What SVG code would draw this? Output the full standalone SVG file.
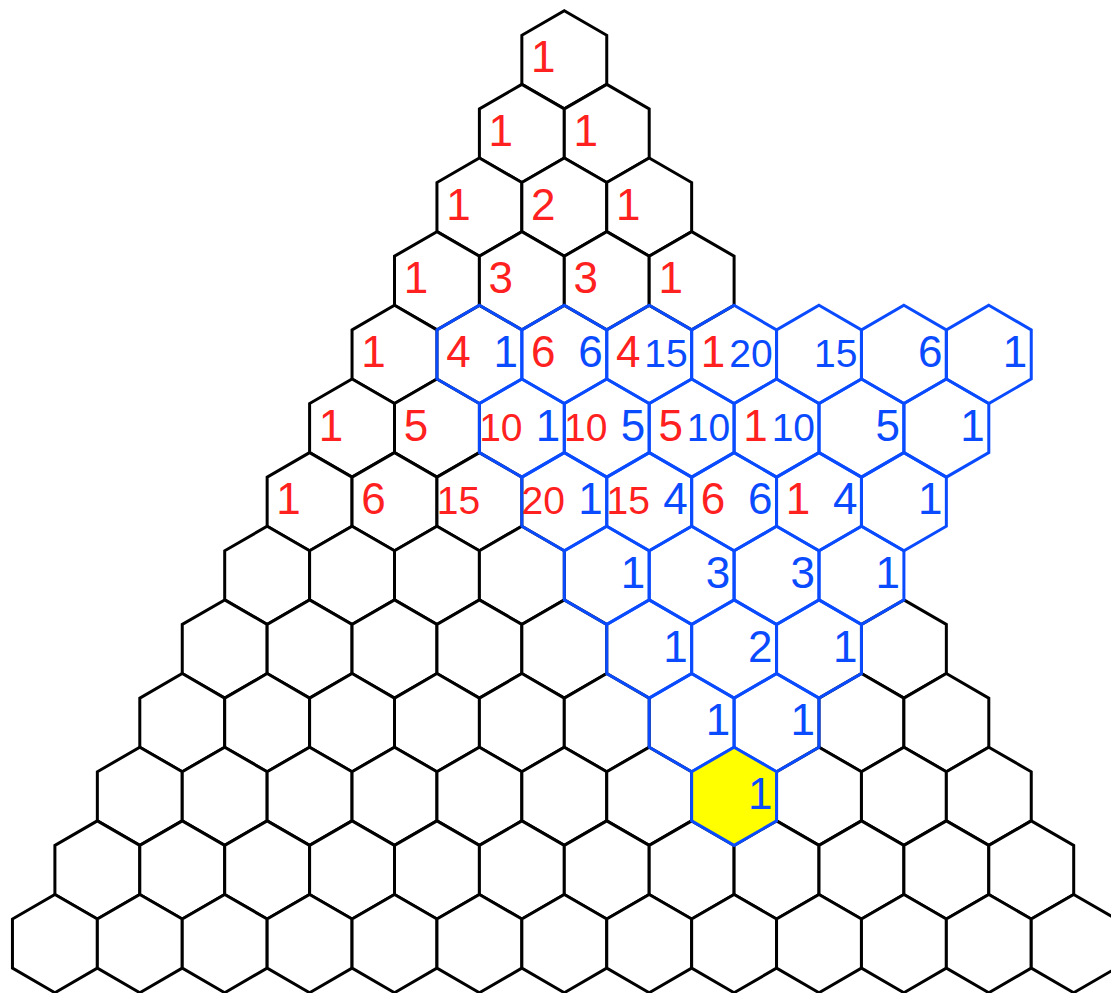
<svg xmlns="http://www.w3.org/2000/svg" xmlns:xlink="http://www.w3.org/1999/xlink" width="1111" height="993" viewBox="0 0 1111 993">
<style>
.k{fill:#fff;stroke:#000;stroke-width:3}
.b{fill:none;stroke:#0a4bff;stroke-width:3}
.y{fill:#ffff00;stroke:#0a4bff;stroke-width:3}
text{font-family:"Liberation Sans",Arial,sans-serif;font-size:44px}
.r{fill:#ff2020;text-anchor:middle}
.u{fill:#0a4bff;text-anchor:end}
.s{font-size:39px}
</style>
<defs>
<polygon id="hx" points="0,-49.1 42.45,-24.55 42.45,24.55 0,49.1 -42.45,24.55 -42.45,-24.55"/>
</defs>
<rect width="1111" height="993" fill="#fff"/>
<g id="nodes">
<g id="n0-0" transform="translate(564.3,59.8)"><use href="#hx" class="k"/><text class="r" x="-21" y="12.5">1</text></g>
<g id="n1-0" transform="translate(521.85,133.45)"><use href="#hx" class="k"/><text class="r" x="-21" y="12.5">1</text></g>
<g id="n1-1" transform="translate(606.75,133.45)"><use href="#hx" class="k"/><text class="r" x="-21" y="12.5">1</text></g>
<g id="n2-0" transform="translate(479.4,207.1)"><use href="#hx" class="k"/><text class="r" x="-21" y="12.5">1</text></g>
<g id="n2-1" transform="translate(564.3,207.1)"><use href="#hx" class="k"/><text class="r" x="-21" y="12.5">2</text></g>
<g id="n2-2" transform="translate(649.2,207.1)"><use href="#hx" class="k"/><text class="r" x="-21" y="12.5">1</text></g>
<g id="n3-0" transform="translate(436.95,280.75)"><use href="#hx" class="k"/><text class="r" x="-21" y="12.5">1</text></g>
<g id="n3-1" transform="translate(521.85,280.75)"><use href="#hx" class="k"/><text class="r" x="-21" y="12.5">3</text></g>
<g id="n3-2" transform="translate(606.75,280.75)"><use href="#hx" class="k"/><text class="r" x="-21" y="12.5">3</text></g>
<g id="n3-3" transform="translate(691.65,280.75)"><use href="#hx" class="k"/><text class="r" x="-21" y="12.5">1</text></g>
<g id="n4-0" transform="translate(394.5,354.4)"><use href="#hx" class="k"/><text class="r" x="-21" y="12.5">1</text></g>
<g id="n5-0" transform="translate(352.05,428.05)"><use href="#hx" class="k"/><text class="r" x="-21" y="12.5">1</text></g>
<g id="n5-1" transform="translate(436.95,428.05)"><use href="#hx" class="k"/><text class="r" x="-21" y="12.5">5</text></g>
<g id="n6-0" transform="translate(309.6,501.7)"><use href="#hx" class="k"/><text class="r" x="-21" y="12.5">1</text></g>
<g id="n6-1" transform="translate(394.5,501.7)"><use href="#hx" class="k"/><text class="r" x="-21" y="12.5">6</text></g>
<g id="n6-2" transform="translate(479.4,501.7)"><use href="#hx" class="k"/><text class="r s" x="-21" y="12.5">15</text></g>
<g id="n7-0" transform="translate(267.15,575.35)"><use href="#hx" class="k"/></g>
<g id="n7-1" transform="translate(352.05,575.35)"><use href="#hx" class="k"/></g>
<g id="n7-2" transform="translate(436.95,575.35)"><use href="#hx" class="k"/></g>
<g id="n7-3" transform="translate(521.85,575.35)"><use href="#hx" class="k"/></g>
<g id="n8-0" transform="translate(224.7,649)"><use href="#hx" class="k"/></g>
<g id="n8-1" transform="translate(309.6,649)"><use href="#hx" class="k"/></g>
<g id="n8-2" transform="translate(394.5,649)"><use href="#hx" class="k"/></g>
<g id="n8-3" transform="translate(479.4,649)"><use href="#hx" class="k"/></g>
<g id="n8-4" transform="translate(564.3,649)"><use href="#hx" class="k"/></g>
<g id="n8-8" transform="translate(903.9,649)"><use href="#hx" class="k"/></g>
<g id="n9-0" transform="translate(182.25,722.65)"><use href="#hx" class="k"/></g>
<g id="n9-1" transform="translate(267.15,722.65)"><use href="#hx" class="k"/></g>
<g id="n9-2" transform="translate(352.05,722.65)"><use href="#hx" class="k"/></g>
<g id="n9-3" transform="translate(436.95,722.65)"><use href="#hx" class="k"/></g>
<g id="n9-4" transform="translate(521.85,722.65)"><use href="#hx" class="k"/></g>
<g id="n9-5" transform="translate(606.75,722.65)"><use href="#hx" class="k"/></g>
<g id="n9-8" transform="translate(861.45,722.65)"><use href="#hx" class="k"/></g>
<g id="n9-9" transform="translate(946.35,722.65)"><use href="#hx" class="k"/></g>
<g id="n10-0" transform="translate(139.8,796.3)"><use href="#hx" class="k"/></g>
<g id="n10-1" transform="translate(224.7,796.3)"><use href="#hx" class="k"/></g>
<g id="n10-2" transform="translate(309.6,796.3)"><use href="#hx" class="k"/></g>
<g id="n10-3" transform="translate(394.5,796.3)"><use href="#hx" class="k"/></g>
<g id="n10-4" transform="translate(479.4,796.3)"><use href="#hx" class="k"/></g>
<g id="n10-5" transform="translate(564.3,796.3)"><use href="#hx" class="k"/></g>
<g id="n10-6" transform="translate(649.2,796.3)"><use href="#hx" class="k"/></g>
<g id="n10-8" transform="translate(819,796.3)"><use href="#hx" class="k"/></g>
<g id="n10-9" transform="translate(903.9,796.3)"><use href="#hx" class="k"/></g>
<g id="n10-10" transform="translate(988.8,796.3)"><use href="#hx" class="k"/></g>
<g id="n11-0" transform="translate(97.35,869.95)"><use href="#hx" class="k"/></g>
<g id="n11-1" transform="translate(182.25,869.95)"><use href="#hx" class="k"/></g>
<g id="n11-2" transform="translate(267.15,869.95)"><use href="#hx" class="k"/></g>
<g id="n11-3" transform="translate(352.05,869.95)"><use href="#hx" class="k"/></g>
<g id="n11-4" transform="translate(436.95,869.95)"><use href="#hx" class="k"/></g>
<g id="n11-5" transform="translate(521.85,869.95)"><use href="#hx" class="k"/></g>
<g id="n11-6" transform="translate(606.75,869.95)"><use href="#hx" class="k"/></g>
<g id="n11-7" transform="translate(691.65,869.95)"><use href="#hx" class="k"/></g>
<g id="n11-8" transform="translate(776.55,869.95)"><use href="#hx" class="k"/></g>
<g id="n11-9" transform="translate(861.45,869.95)"><use href="#hx" class="k"/></g>
<g id="n11-10" transform="translate(946.35,869.95)"><use href="#hx" class="k"/></g>
<g id="n11-11" transform="translate(1031.25,869.95)"><use href="#hx" class="k"/></g>
<g id="n12-0" transform="translate(54.9,943.6)"><use href="#hx" class="k"/></g>
<g id="n12-1" transform="translate(139.8,943.6)"><use href="#hx" class="k"/></g>
<g id="n12-2" transform="translate(224.7,943.6)"><use href="#hx" class="k"/></g>
<g id="n12-3" transform="translate(309.6,943.6)"><use href="#hx" class="k"/></g>
<g id="n12-4" transform="translate(394.5,943.6)"><use href="#hx" class="k"/></g>
<g id="n12-5" transform="translate(479.4,943.6)"><use href="#hx" class="k"/></g>
<g id="n12-6" transform="translate(564.3,943.6)"><use href="#hx" class="k"/></g>
<g id="n12-7" transform="translate(649.2,943.6)"><use href="#hx" class="k"/></g>
<g id="n12-8" transform="translate(734.1,943.6)"><use href="#hx" class="k"/></g>
<g id="n12-9" transform="translate(819,943.6)"><use href="#hx" class="k"/></g>
<g id="n12-10" transform="translate(903.9,943.6)"><use href="#hx" class="k"/></g>
<g id="n12-11" transform="translate(988.8,943.6)"><use href="#hx" class="k"/></g>
<g id="n12-12" transform="translate(1073.7,943.6)"><use href="#hx" class="k"/></g>

<g id="n4-1" transform="translate(479.4,354.4)"><use href="#hx" class="b"/><text class="r" x="-21" y="12.5">4</text><text class="u" x="38.5" y="12.5">1</text></g>
<g id="n4-2" transform="translate(564.3,354.4)"><use href="#hx" class="b"/><text class="r" x="-21" y="12.5">6</text><text class="u" x="38.5" y="12.5">6</text></g>
<g id="n4-3" transform="translate(649.2,354.4)"><use href="#hx" class="b"/><text class="r" x="-21" y="12.5">4</text><text class="u s" x="38.5" y="12.5">15</text></g>
<g id="n4-4" transform="translate(734.1,354.4)"><use href="#hx" class="b"/><text class="r" x="-21" y="12.5">1</text><text class="u s" x="38.5" y="12.5">20</text></g>
<g id="n4-5" transform="translate(819,354.4)"><use href="#hx" class="b"/><text class="u s" x="38.5" y="12.5">15</text></g>
<g id="n4-6" transform="translate(903.9,354.4)"><use href="#hx" class="b"/><text class="u" x="38.5" y="12.5">6</text></g>
<g id="n4-7" transform="translate(988.8,354.4)"><use href="#hx" class="b"/><text class="u" x="38.5" y="12.5">1</text></g>
<g id="n5-2" transform="translate(521.85,428.05)"><use href="#hx" class="b"/><text class="r s" x="-21" y="12.5">10</text><text class="u" x="38.5" y="12.5">1</text></g>
<g id="n5-3" transform="translate(606.75,428.05)"><use href="#hx" class="b"/><text class="r s" x="-21" y="12.5">10</text><text class="u" x="38.5" y="12.5">5</text></g>
<g id="n5-4" transform="translate(691.65,428.05)"><use href="#hx" class="b"/><text class="r" x="-21" y="12.5">5</text><text class="u s" x="38.5" y="12.5">10</text></g>
<g id="n5-5" transform="translate(776.55,428.05)"><use href="#hx" class="b"/><text class="r" x="-21" y="12.5">1</text><text class="u s" x="38.5" y="12.5">10</text></g>
<g id="n5-6" transform="translate(861.45,428.05)"><use href="#hx" class="b"/><text class="u" x="38.5" y="12.5">5</text></g>
<g id="n5-7" transform="translate(946.35,428.05)"><use href="#hx" class="b"/><text class="u" x="38.5" y="12.5">1</text></g>
<g id="n6-3" transform="translate(564.3,501.7)"><use href="#hx" class="b"/><text class="r s" x="-21" y="12.5">20</text><text class="u" x="38.5" y="12.5">1</text></g>
<g id="n6-4" transform="translate(649.2,501.7)"><use href="#hx" class="b"/><text class="r s" x="-21" y="12.5">15</text><text class="u" x="38.5" y="12.5">4</text></g>
<g id="n6-5" transform="translate(734.1,501.7)"><use href="#hx" class="b"/><text class="r" x="-21" y="12.5">6</text><text class="u" x="38.5" y="12.5">6</text></g>
<g id="n6-6" transform="translate(819,501.7)"><use href="#hx" class="b"/><text class="r" x="-21" y="12.5">1</text><text class="u" x="38.5" y="12.5">4</text></g>
<g id="n6-7" transform="translate(903.9,501.7)"><use href="#hx" class="b"/><text class="u" x="38.5" y="12.5">1</text></g>
<g id="n7-4" transform="translate(606.75,575.35)"><use href="#hx" class="b"/><text class="u" x="38.5" y="12.5">1</text></g>
<g id="n7-5" transform="translate(691.65,575.35)"><use href="#hx" class="b"/><text class="u" x="38.5" y="12.5">3</text></g>
<g id="n7-6" transform="translate(776.55,575.35)"><use href="#hx" class="b"/><text class="u" x="38.5" y="12.5">3</text></g>
<g id="n7-7" transform="translate(861.45,575.35)"><use href="#hx" class="b"/><text class="u" x="38.5" y="12.5">1</text></g>
<g id="n8-5" transform="translate(649.2,649)"><use href="#hx" class="b"/><text class="u" x="38.5" y="12.5">1</text></g>
<g id="n8-6" transform="translate(734.1,649)"><use href="#hx" class="b"/><text class="u" x="38.5" y="12.5">2</text></g>
<g id="n8-7" transform="translate(819,649)"><use href="#hx" class="b"/><text class="u" x="38.5" y="12.5">1</text></g>
<g id="n9-6" transform="translate(691.65,722.65)"><use href="#hx" class="b"/><text class="u" x="38.5" y="12.5">1</text></g>
<g id="n9-7" transform="translate(776.55,722.65)"><use href="#hx" class="b"/><text class="u" x="38.5" y="12.5">1</text></g>
<g id="n10-7" transform="translate(734.1,796.3)"><use href="#hx" class="y"/><text class="u" x="38.5" y="12.5">1</text></g>
</g>
<g id="connectors"/>
</svg>
